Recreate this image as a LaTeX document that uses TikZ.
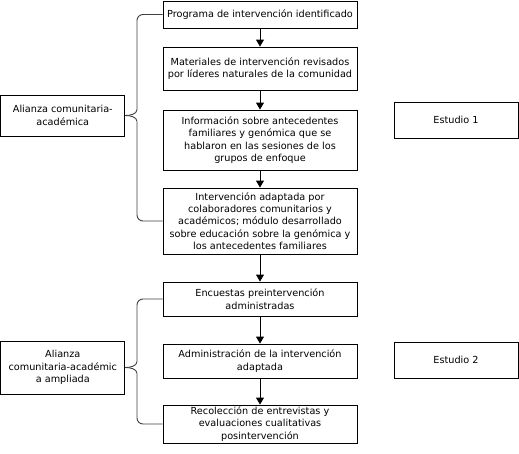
\documentclass[tikz,border=0pt]{standalone}
\usepackage{fontspec}
\setmainfont{DejaVu Sans}
\usetikzlibrary{calc,arrows.meta}
\begin{document}
\begin{tikzpicture}[x=1pt,y=-1pt,
  box/.style={draw=black,line width=0.9pt,align=center,inner sep=0pt,
    font=\fontsize{9.7}{12.4}\selectfont,minimum width=194pt},
  sidebox/.style={draw=black,line width=0.9pt,align=center,inner sep=0pt,
    font=\fontsize{9.7}{12.4}\selectfont,minimum width=124pt},
  flow/.style={line width=0.9pt,-{Triangle[width=8pt,length=7pt]}},
  brace/.style={draw=black!75,line width=0.9pt}]
\useasboundingbox (0,0) rectangle (519,453);
\node[box,minimum height=27pt] (b1) at (260,14.5) {Programa de intervención identificado};
\node[box,minimum height=43pt] (b2) at (260,68.5) {Materiales de intervención revisados\\por líderes naturales de la comunidad};
\node[box,minimum height=60pt] (b3) at (260,140) {Información sobre antecedentes\\familiares y genómica que se\\hablaron en las sesiones de los\\grupos de enfoque};
\node[box,minimum height=66pt] (b4) at (260,221) {Intervención adaptada por\\colaboradores comunitarios y\\académicos; módulo desarrollado\\sobre educación sobre la genómica y\\los antecedentes familiares};
\node[box,minimum height=34pt] (b5) at (260,299) {Encuestas preintervención\\administradas};
\node[box,minimum height=34pt] (b6) at (260,361) {Administración de la intervención\\adaptada};
\node[box,minimum height=38pt] (b7) at (260,424) {Recolección de entrevistas y\\evaluaciones cualitativas\\posintervención};
\node[sidebox,minimum height=41pt] (a1) at (62.8,115.5) {Alianza comunitaria-\\académica};
\node[sidebox,minimum height=53pt] (a2) at (62.8,367.5) {Alianza\\comunitaria-académic\\a ampliada};
\node[sidebox,minimum height=36pt] (s1) at (456,120) {Estudio 1};
\node[sidebox,minimum height=36pt] (s2) at (456,360) {Estudio 2};
\foreach \p/\q in {b1/b2,b2/b3,b3/b4,b4/b5,b5/b6,b6/b7}
  \draw[flow] (\p.south) -- (\q.north);
\coordinate (bx) at (137,0);
\path[brace,rounded corners=6pt] (b1.west) -- (b1.west -| bx) -- ($(a1.east -| bx)+(0,-6)$);
\path[brace] ($(a1.east -| bx)+(0,-6)$) .. controls ($(a1.east -| bx)+(0,-1)$) and ($(a1.east)+(4,0)$) .. (a1.east);
\path[brace] (a1.east) .. controls ($(a1.east)+(4,0)$) and ($(a1.east -| bx)+(0,1)$) .. ($(a1.east -| bx)+(0,6)$);
\path[brace,rounded corners=6pt] ($(a1.east -| bx)+(0,6)$) -- (b4.west -| bx) -- (b4.west);
\path[brace,rounded corners=6pt] (b5.west) -- (b5.west -| bx) -- ($(a2.east -| bx)+(0,-6)$);
\path[brace] ($(a2.east -| bx)+(0,-6)$) .. controls ($(a2.east -| bx)+(0,-1)$) and ($(a2.east)+(4,0)$) .. (a2.east);
\path[brace] (a2.east) .. controls ($(a2.east)+(4,0)$) and ($(a2.east -| bx)+(0,1)$) .. ($(a2.east -| bx)+(0,6)$);
\path[brace,rounded corners=6pt] ($(a2.east -| bx)+(0,6)$) -- (b7.west -| bx) -- (b7.west);
\end{tikzpicture}
\end{document}
